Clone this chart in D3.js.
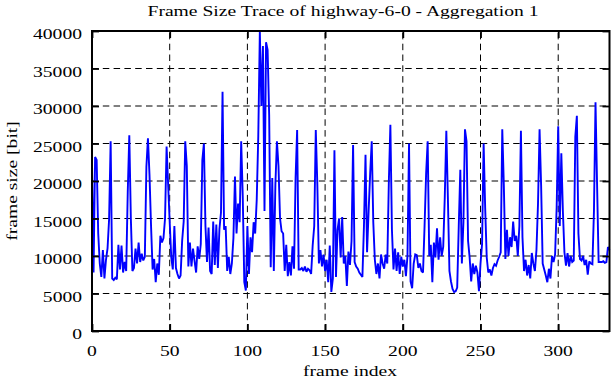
<!DOCTYPE html>
<html><head><meta charset="utf-8">
<script src="https://cdn.jsdelivr.net/npm/d3@7"></script>
<style>body{margin:0;background:#fff}svg{display:block;background:#fff}</style>
</head><body><svg id="c" width="612" height="382"></svg>
<script>
const chartTitle = "Frame Size Trace of highway-6-0 - Aggregation 1";
const xLabel = "frame index";
const yLabel = "frame size [bit]";
const xTicks = [0, 50, 100, 150, 200, 250, 300];
const yTicks = [0, 5000, 10000, 15000, 20000, 25000, 30000, 35000, 40000];
const frameSizes = [
  22600, 7800, 23200, 22800, 13000, 9000, 7200, 10800, 7000, 9500, 11000, 14900,
  25300, 7000, 6800, 7100, 6900, 11500, 8200, 11400, 7800, 9200, 8000, 18500,
  26100, 15000, 8000, 8400, 11000, 9000, 11800, 9200, 10300, 9400, 9900, 21900,
  25700, 20800, 14000, 8200, 9600, 6500, 9000, 7500, 12700, 11800, 12400, 15000,
  24600, 19500, 14500, 9800, 8200, 14000, 8400, 7600, 7000, 7400, 12000, 14600,
  25300, 22000, 8600, 11800, 8600, 11000, 9300, 7800, 11300, 9600, 11600, 22800,
  25000, 14000, 9200, 13800, 8000, 7600, 14600, 8800, 14200, 8400, 13600, 15800,
  31900, 13500, 14000, 8000, 9900, 7600, 9000, 12400, 20600, 13000, 17000, 14500,
  25300, 18000, 6500, 5400, 14000, 7600, 12500, 10500, 14500, 13000, 17500, 26000,
  39900, 30000, 38000, 16000, 38500, 37500, 28800, 8500, 20400, 8000, 19500, 25300,
  22000, 15000, 13300, 13000, 8000, 11500, 7300, 9200, 7400, 11300, 8300, 20400,
  26800, 8200, 8200, 8400, 8000, 8600, 7900, 8300, 8100, 7600, 11400, 14000,
  26800, 19500, 9000, 10800, 8600, 10200, 8000, 9500, 6500, 11400, 5200, 7000,
  24100, 7200, 13500, 15000, 9800, 15200, 9000, 10000, 6000, 10600, 8800, 12000,
  24800, 9200, 8600, 8300, 7800, 7500, 7200, 14000, 23500, 10500, 16000, 21000,
  25300, 14500, 9500, 7600, 9000, 7000, 10200, 9000, 8300, 10200, 9000, 19800,
  27500, 13500, 8200, 11000, 8000, 10500, 7600, 9900, 8600, 9500, 7300, 10000,
  25000, 6600, 5700, 9000, 10200, 10100, 8400, 9000, 8000, 7800, 14000, 21000,
  25300, 10000, 11500, 6500, 11800, 9800, 13700, 9500, 12500, 10000, 11200, 17800,
  26700, 17800, 8000, 6600, 5600, 5200, 5300, 5800, 14000, 21500, 9000, 14500,
  26900, 25300, 12000, 9800, 6600, 9000, 7600, 8700, 7800, 5300, 9000, 11600,
  25000, 16400, 9800, 7800, 8200, 7400, 8400, 8900, 8700, 9400, 9900, 10500,
  26900, 19500, 9600, 13500, 10000, 12500, 11200, 14600, 12000, 12700, 10000, 14000,
  26700, 12500, 8000, 9500, 7400, 8800, 7000, 10400, 9000, 8000, 10800, 17000,
  26900, 19400, 9000, 8200, 7400, 6500, 8300, 7000, 10000, 9200, 10200, 16500,
  27300, 14000, 23700, 16000, 10500, 8700, 10400, 8600, 10000, 9200, 9400, 25900,
  28700, 13000, 9600, 9400, 10000, 8800, 9500, 7500, 9300, 9000, 8900, 16000,
  30500, 19600, 9200, 9200, 9200, 9300, 9100, 9200, 11200, 10800
];
const frameIndex = frameSizes.map((d, i) => i);

const L = 92, R = 609.5, T = 31, B = 331;
const FONT = "'Liberation Serif', 'Times New Roman', serif";
const FS = 14, SX = 1.4;

const svg = d3.select("#c");
const x = d3.scaleLinear().domain([0, 333]).range([L, R]);
const y = d3.scaleLinear().domain([0, 40000]).range([B, T]);

// grid
const grid = svg.append("g").attr("stroke", "#000").attr("stroke-width", 1)
  .attr("stroke-dasharray", "6.5,4.3").attr("fill", "none");
grid.selectAll("line.h").data(yTicks.filter(v => v > 0 && v < 40000)).join("line")
  .attr("x1", L).attr("x2", R).attr("y1", d => y(d)).attr("y2", d => y(d));
grid.selectAll("line.v").data(xTicks.filter(v => v > 0)).join("line")
  .attr("y1", B).attr("y2", T).attr("x1", d => x(d)).attr("x2", d => x(d));

// data line
svg.append("path").datum(frameSizes)
  .attr("fill", "none").attr("stroke", "#0000ff").attr("stroke-width", 1.9)
  .attr("stroke-linejoin", "miter").attr("stroke-miterlimit", 2)
  .attr("d", d3.line().x((d, i) => x(frameIndex[i])).y(d => y(d)));

// axes (ticks mirrored, inward)
function styleAxis(g) {
  g.select(".domain").remove();
  g.selectAll(".tick line").attr("stroke", "#000").attr("stroke-width", 1.8);
}
svg.append("g").attr("transform", `translate(${L},0)`)
  .call(d3.axisLeft(y).tickValues(yTicks).tickSize(-7).tickFormat(""))
  .call(styleAxis);
svg.append("g").attr("transform", `translate(${R},0)`)
  .call(d3.axisRight(y).tickValues(yTicks).tickSize(-7).tickFormat(""))
  .call(styleAxis);
svg.append("g").attr("transform", `translate(0,${B})`)
  .call(d3.axisBottom(x).tickValues(xTicks).tickSize(-7).tickFormat(""))
  .call(styleAxis);
svg.append("g").attr("transform", `translate(0,${T})`)
  .call(d3.axisTop(x).tickValues(xTicks).tickSize(-7).tickFormat(""))
  .call(styleAxis);

// border
svg.append("rect").attr("x", L).attr("y", T).attr("width", R - L).attr("height", B - T)
  .attr("fill", "none").attr("stroke", "#000").attr("stroke-width", 2);

function stext(px, py, str, anchor, rot) {
  svg.append("text")
    .attr("transform", `translate(${px},${py})${rot ? " rotate(" + rot + ")" : ""} scale(${SX},1)`)
    .attr("text-anchor", anchor)
    .attr("font-family", FONT).attr("font-size", FS).attr("fill", "#000")
    .text(str);
}

yTicks.forEach(v => stext(82, y(v) + 8, d3.format("d")(v), "end"));
xTicks.forEach(v => stext(x(v), 356, d3.format("d")(v), "middle"));
stext(350, 375.5, xLabel, "middle");
stext(17, 181, yLabel, "middle", -90);
stext(343, 15.5, chartTitle, "middle");
</script></body></html>
